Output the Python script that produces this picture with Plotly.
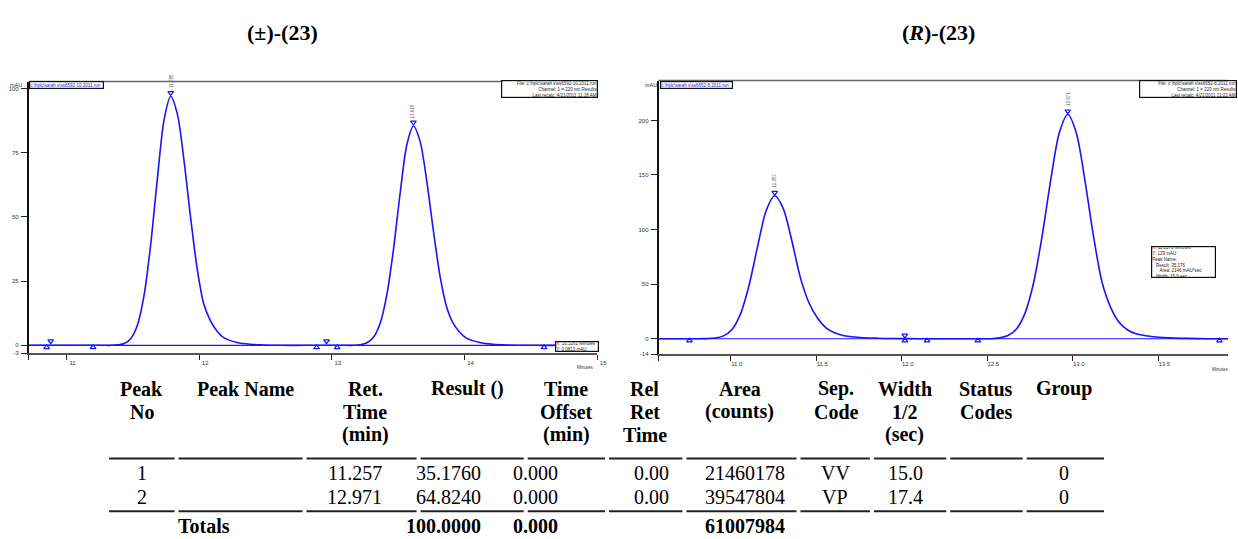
import plotly.graph_objects as go

W, H = 1238, 539

# ---------------- data: racemic sample (left) ----------------
rac_time = [10.715, 11.0, 11.2, 11.3,
            11.335, 11.385, 11.435, 11.485, 11.535, 11.585, 11.635, 11.685, 11.735, 11.785,
            11.835, 11.885, 11.935, 11.985, 12.035, 12.085, 12.135, 12.185, 12.285, 12.385, 12.485,
            12.6, 12.8, 13.0, 13.1,
            13.165, 13.215, 13.265, 13.315, 13.365, 13.415, 13.465, 13.515, 13.565, 13.615,
            13.665, 13.715, 13.765, 13.815, 13.865, 13.915, 13.965, 14.015, 14.115, 14.215, 14.315,
            14.5, 14.8, 15.0]
rac_mau = [0.0, 0.0, 0.0, 0.0,
           0.0, 0.2, 0.7, 2.7, 8.0, 19.7, 39.6, 65.1, 87.8, 97.0,
           90.1, 72.1, 49.8, 29.7, 16.0, 9.5, 5.5, 3.0, 1.1, 0.4, 0.15,
           0.0, 0.0, 0.0, 0.0,
           0.0, 0.25, 1.0, 3.2, 8.7, 19.8, 37.5, 59.3, 78.0, 85.4,
           79.5, 64.1, 44.8, 27.1, 15.0, 8.5, 5.0, 2.8, 1.1, 0.4, 0.15,
           0.0, 0.0, 0.0]
rac_xrange = [10.715, 15.0]
rac_yrange = [-3, 102.7]
rac_yticks = [-3, 0, 25, 50, 75, 100]
rac_xticks = [10.715, 11, 12, 13, 14, 15]
rac_xticktext = ["", "11", "12", "13", "14", "15"]
rac_up_t = [10.85, 11.20, 12.885, 13.04, 14.60]
rac_up_y = [-0.8, -0.8, -0.8, -0.8, -0.8]
rac_dn_t = [10.88, 12.96, 11.785, 13.615]
rac_dn_y = [1.6, 1.6, 98.3, 86.8]
rac_peak_t = [11.785, 13.615]
rac_peak_h = [97.0, 85.4]
rac_peak_lbl = ["11.785", "13.615"]

# ---------------- data: (R) sample (right) ----------------
r_time = [10.578, 10.7,
          10.807, 10.857, 10.907, 10.957, 11.007, 11.057, 11.107, 11.157, 11.207, 11.257,
          11.307, 11.357, 11.407, 11.457, 11.507, 11.557, 11.607, 11.657, 11.757, 11.857, 11.957,
          12.1, 12.3, 12.45,
          12.521, 12.571, 12.621, 12.671, 12.721, 12.771, 12.821, 12.871, 12.921, 12.971,
          13.021, 13.071, 13.121, 13.171, 13.221, 13.271, 13.321, 13.371, 13.471, 13.571, 13.671,
          13.8, 13.908]
r_mau = [0.0, 0.0,
         0.0, 0.12, 0.6, 2.6, 8.5, 22.8, 49.0, 84.6, 117.5, 131.0,
         119.2, 89.8, 56.0, 33.0, 19.0, 10.0, 5.5, 3.0, 1.2, 0.5, 0.2,
         0.0, 0.0, 0.0,
         0.0, 0.8, 2.9, 9.0, 23.5, 51.3, 94.2, 145.3, 188.5, 205.6,
         188.5, 145.3, 94.2, 52.0, 29.0, 15.0, 8.0, 4.5, 1.8, 0.8, 0.3,
         0.0, 0.0]
r_xrange = [10.578, 13.908]
r_yrange = [-14, 236.5]
r_yticks = [-14, 0, 50, 100, 150, 200]
r_xticks = [10.578, 11.0, 11.5, 12.0, 12.5, 13.0, 13.5]
r_xticktext = ["", "11.0", "11.5", "12.0", "12.5", "13.0", "13.5"]
r_up_t = [10.758, 12.018, 12.148, 12.445, 13.858]
r_up_y = [-1.8, -1.8, -1.8, -1.8, -1.8]
r_dn_t = [12.018, 11.257, 12.971]
r_dn_y = [3.0, 133.8, 208.4]
r_peak_t = [11.257, 12.971]
r_peak_h = [131.0, 205.6]
r_peak_lbl = ["11.257", "12.971"]

# ---------------- data: results table ----------------
headers = ["Peak<br>No", "Peak Name", "Ret.<br>Time<br>(min)", "Result ()",
           "Time<br>Offset<br>(min)", "Rel<br>Ret<br>Time", "Area<br>(counts)",
           "Sep.<br>Code", "Width<br>1/2<br>(sec)", "Status<br>Codes", "Group"]
peak_no = ["1", "2"]
peak_name = ["", ""]
ret_time = ["11.257", "12.971"]
result = ["35.1760", "64.8240"]
time_offset = ["0.000", "0.000"]
rel_ret = ["0.00", "0.00"]
area = ["21460178", "39547804"]
sep_code = ["VV", "VP"]
width_half = ["15.0", "17.4"]
status = ["", ""]
group = ["0", "0"]
totals = ["", "Totals", "", "100.0000", "0.000", "", "61007984", "", "", "", ""]

# ---------------- layout helpers ----------------
def px(x):
    return x / W

def py(y):
    return 1 - y / H

BLUE = "#1414ff"
TICKFONT = dict(family="Liberation Sans", size=6, color="#333")

fig = go.Figure()

def add_panel(xa, ya, t, v, xr, up_t, up_y, dn_t, dn_y):
    fig.add_trace(go.Scatter(x=t, y=v, mode="lines",
                             line=dict(color=BLUE, width=1.6, shape="spline", smoothing=0.8),
                             xaxis=xa, yaxis=ya, hoverinfo="skip"))
    fig.add_trace(go.Scatter(x=xr, y=[0, 0], mode="lines", line=dict(color=BLUE, width=1.2),
                             xaxis=xa, yaxis=ya, hoverinfo="skip"))
    fig.add_trace(go.Scatter(x=up_t, y=up_y, mode="markers",
                             marker=dict(symbol="triangle-up-open", size=5, color=BLUE, line=dict(width=1.2)),
                             xaxis=xa, yaxis=ya, hoverinfo="skip"))
    fig.add_trace(go.Scatter(x=dn_t, y=dn_y, mode="markers",
                             marker=dict(symbol="triangle-down-open", size=5, color=BLUE, line=dict(width=1.2)),
                             xaxis=xa, yaxis=ya, hoverinfo="skip"))

add_panel("x", "y", rac_time, rac_mau, rac_xrange, rac_up_t, rac_up_y, rac_dn_t, rac_dn_y)
add_panel("x2", "y2", r_time, r_mau, r_xrange, r_up_t, r_up_y, r_dn_t, r_dn_y)

def xaxis_cfg(domain, rng, tv, tt, anchor):
    return dict(domain=domain, range=rng, anchor=anchor, showgrid=False, zeroline=False,
                showline=True, linecolor="#555", linewidth=1.5, mirror=False,
                ticks="outside", ticklen=5, tickwidth=1.2, tickcolor="#222",
                tickvals=tv, ticktext=tt, tickfont=TICKFONT, ticklabelshift=6, ticklabelstandoff=-2,
                fixedrange=True)

def yaxis_cfg(domain, rng, tv, anchor):
    return dict(domain=domain, range=rng, anchor=anchor, showgrid=False, zeroline=False,
                showline=True, linecolor="#111", linewidth=1.8,
                ticks="outside", ticklen=6, tickwidth=1.2, tickcolor="#222",
                tickvals=tv, ticktext=[str(v) for v in tv], tickfont=TICKFONT, ticklabelstandoff=1,
                fixedrange=True)

fig.update_layout(
    width=W, height=H, margin=dict(l=0, r=0, t=0, b=0),
    paper_bgcolor="white", plot_bgcolor="white", showlegend=False,
    xaxis=xaxis_cfg([px(29), px(602)], rac_xrange, rac_xticks, rac_xticktext, "y"),
    yaxis=yaxis_cfg([py(355), py(82)], rac_yrange, rac_yticks, "x"),
    xaxis2=xaxis_cfg([px(664), 1.0], r_xrange, r_xticks, r_xticktext, "y2"),
    yaxis2=yaxis_cfg([py(356), py(81)], r_yrange, r_yticks, "x2"),
)

shapes = [
    dict(type="line", xref="paper", yref="paper", x0=px(29), x1=px(603), y0=py(82), y1=py(82),
         line=dict(color="#666", width=1.5)),
    dict(type="line", xref="paper", yref="paper", x0=px(664), x1=1.0, y0=py(81), y1=py(81),
         line=dict(color="#666", width=1.5)),
]

ann = []

def text_at(text, x, y, font, xanchor="center", yanchor="middle", **kw):
    d = dict(text=text, x=px(x), y=py(y), xref="paper", yref="paper", showarrow=False,
             xanchor=xanchor, yanchor=yanchor, font=font)
    d.update(kw)
    ann.append(d)

# titles
TITLEF = dict(family="Liberation Serif", size=22, color="black")
text_at("<b>(±)-(23)</b>", 285, 33, TITLEF)
text_at("<b>(<i>R</i>)-(23)</b>", 946, 33, TITLEF)

# peak labels
PEAKF = dict(family="Liberation Sans", size=4.5, color="#555")
for t, h, lbl in zip(rac_peak_t, rac_peak_h, rac_peak_lbl):
    ann.append(dict(text=lbl, x=t, y=h, xref="x", yref="y", showarrow=False, textangle=-90,
                    xanchor="center", yanchor="bottom", yshift=6, font=PEAKF))
for t, h, lbl in zip(r_peak_t, r_peak_h, r_peak_lbl):
    ann.append(dict(text=lbl, x=t, y=h, xref="x2", yref="y2", showarrow=False, textangle=-90,
                    xanchor="center", yanchor="bottom", yshift=6, font=PEAKF))

# axis unit labels
UNITF = dict(family="Liberation Sans", size=5.5, color="#333")
text_at("mAU", 16, 85, UNITF)
text_at("mAU", 656, 85, UNITF)
text_at("Minutes", 590, 370, dict(family="Liberation Sans", size=4.5, color="#333"))
text_at("Minutes", 1230, 372, dict(family="Liberation Sans", size=4.5, color="#333"))

# info boxes
def box(text, x0, y0, w, h, align="left", color="#222"):
    ann.append(dict(text=text, x=px(x0), y=py(y0), xref="paper", yref="paper", showarrow=False,
                    xanchor="left", yanchor="top", width=w, height=h, align=align, valign="middle",
                    bordercolor="#111", borderwidth=1.2, borderpad=0, bgcolor="white",
                    font=dict(family="Liberation Sans", size=4.5, color=color)))

box("c:\\hplc\\sarah s\\ss6592-10.2011.run", 29, 81.5, 73, 6, color="#2020d0")
box("File: c:\\hplc\\sarah s\\ss6592-10.2011.run<br>Channel: 1 = 220 nm Results<br>Last recalc: 4/21/2011 11:18 AM",
    505, 80, 95, 16, align="right")
box("X: 10.5261 Minutes<br>Y: 0.0813 mAU", 560, 343, 42, 9)
box("c:\\hplc\\sarah s\\ss6652-8.2011.run", 665, 81, 71, 6, color="#2020d0")
box("File: c:\\hplc\\sarah s\\ss6652-8.2011.run<br>Channel: 1 = 220 nm Results<br>Last recalc: 4/21/2011 11:22 AM",
    1148, 80, 96, 16, align="right")
box("X: 11.2570 Minutes<br>Y: 129 mAU<br>Peak Name:<br>   Result: 35.176<br>      Area: 2146 mAU*sec<br>   Width: 15.0 sec",
    1160, 247, 63, 30)

# ---------------- table ----------------
col_seg = [(110, 176), (180, 305), (309, 420), (424, 528), (532, 610), (614, 688),
           (692, 803), (807, 877), (881, 954), (958, 1031), (1035, 1113)]
head_x = [143, 248, 368, 471, 571, 650, 746, 843, 912, 994, 1073]
line_y = [391, 414, 437]
HEADF = dict(family="Liberation Serif", size=20, color="black")
CELLF = dict(family="Liberation Serif", size=20, color="black")
for hx, htxt in zip(head_x, headers):
    for k, part in enumerate(htxt.split("<br>")):
        text_at("<b>%s</b>" % part, hx, line_y[k], HEADF)
for yy in [461, 514]:
    for (a, b) in col_seg:
        shapes.append(dict(type="line", xref="paper", yref="paper", x0=px(a), x1=px(b), y0=py(yy), y1=py(yy),
                           line=dict(color="#222", width=2)))

columns = [peak_no, peak_name, ret_time, result, time_offset, rel_ret, area, sep_code, width_half, status, group]
cell_pos = [("center", 143), ("center", 248), ("right", 387), ("right", 487), ("right", 565), ("right", 676),
            ("right", 793), ("center", 842), ("right", 933), ("center", 994), ("center", 1073)]
row_y = [476, 500]
for col, (anc, xx) in zip(columns, cell_pos):
    for r, val in enumerate(col):
        if val:
            text_at(val, xx, row_y[r], CELLF, xanchor=anc)
tot_pos = [None, ("left", 177), None, ("right", 487), ("right", 565), None, ("right", 793), None, None, None, None]
for val, pos in zip(totals, tot_pos):
    if val and pos:
        text_at("<b>%s</b>" % val, pos[1], 529, HEADF, xanchor=pos[0])

fig.update_layout(annotations=ann, shapes=shapes)

fig.write_html("out.html", post_script="document.body.style.margin='0';document.body.style.overflow='hidden';",
               config={"displayModeBar": False})
